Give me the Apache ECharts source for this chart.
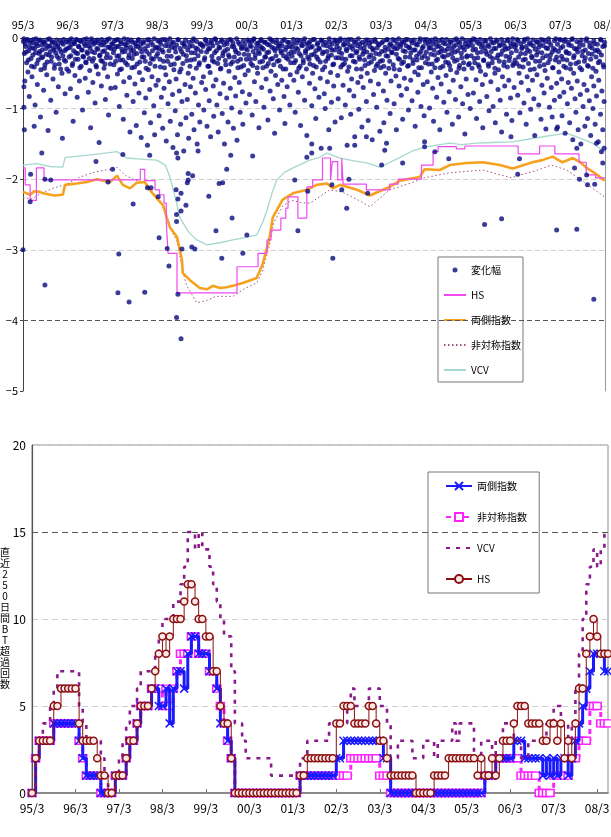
<!DOCTYPE html>
<html><head><meta charset="utf-8">
<script src="https://cdn.jsdelivr.net/npm/echarts@6/dist/echarts.min.js"></script>
<style>html,body{margin:0;padding:0;background:#fff}#c{width:611px;height:837px}</style>
</head><body><div id="c"></div>
<script>
// ---------- top panel: daily changes (x = years since 95/3, frac within year) ----------
const chg95=[[.01,-.05],[.03,-.22],[.04,-.61],[.06,-.12],[.08,-.35],[.09,-.03],[.11,-.48],[.13,-.18],[.14,-.83],[.16,-.07],[.18,-.29],[.2,-.55],[.21,-.14],[.23,-.02],[.25,-.41],[.27,-.95],[.28,-.21],[.3,-.09],[.32,-.66],[.34,-.31],[.35,-.04],[.37,-.19],[.39,-1.12],[.4,-.45],[.42,-.1],[.44,-.27],[.46,-.74],[.47,-.06],[.49,-.38],[.51,-.15],[.53,-.52],[.55,-.02],[.56,-1.31],[.58,-.24],[.6,-.11],[.62,-.88],[.63,-.33],[.65,-.05],[.67,-.58],[.69,-.17],[.7,-.43],[.72,-.08],[.74,-1.05],[.76,-.26],[.78,-.13],[.79,-.69],[.81,-.37],[.83,-.04],[.85,-.2],[.87,-.5],[.88,-1.42],[.9,-.09],[.92,-.31],[.94,-.79],[.96,-.16],[.98,-.44],[.02,-.69],[.02,-.98],[.03,-1.3],[.25,-1.25]];
const chg96=[[.01,-.14],[.02,-.47],[.04,-.03],[.06,-.72],[.07,-.25],[.09,-.09],[.11,-.36],[.12,-1.18],[.14,-.06],[.16,-.53],[.18,-.21],[.19,-.02],[.21,-.84],[.23,-.3],[.25,-.12],[.26,-.61],[.28,-.04],[.3,-.4],[.32,-.17],[.33,-1.02],[.35,-.27],[.37,-.08],[.39,-.57],[.4,-.34],[.42,-.01],[.44,-.22],[.46,-.77],[.47,-.11],[.49,-.46],[.51,-1.27],[.53,-.05],[.54,-.19],[.56,-.63],[.58,-.29],[.6,-.07],[.61,-.92],[.63,-.39],[.65,-.15],[.67,-.03],[.68,-.51],[.7,-1.48],[.72,-.24],[.74,-.1],[.75,-.68],[.77,-.33],[.79,-.06],[.81,-.43],[.82,-.18],[.84,-.87],[.86,-.28],[.88,-.02],[.89,-.55],[.91,-1.09],[.93,-.13],[.95,-.37],[.96,-.71],[.98,-.08]];
const chg97=[[.01,-.09],[.03,-.38],[.04,-.16],[.06,-.7],[.08,-.03],[.1,-.26],[.11,-.51],[.13,-.12],[.15,-.97],[.17,-.31],[.18,-.05],[.2,-.44],[.22,-.2],[.24,-1.15],[.25,-.62],[.27,-.08],[.29,-.35],[.31,-.14],[.32,-.81],[.34,-.02],[.36,-.28],[.38,-.56],[.39,-1.33],[.41,-.18],[.43,-.42],[.45,-.06],[.46,-.9],[.48,-.23],[.5,-.65],[.52,-.11],[.53,-1.24],[.55,-.37],[.57,-.04],[.59,-.78],[.6,-.49],[.62,-.15],[.64,-1.41],[.66,-.27],[.67,-.59],[.69,-.07],[.71,-1.06],[.73,-.33],[.74,-.85],[.76,-.19],[.78,-1.52],[.8,-.45],[.81,-.02],[.83,-.73],[.85,-1.2],[.87,-.29],[.88,-.55],[.9,-.1],[.92,-.96],[.94,-1.37],[.95,-.4],[.97,-.67],[.99,-.13]];
const chg98=[[.01,-.22],[.02,-.6],[.04,-1.1],[.05,-.05],[.07,-.41],[.09,-.84],[.1,-.17],[.12,-1.28],[.14,-.33],[.15,-.71],[.17,-.02],[.19,-.52],[.2,-1.46],[.22,-.26],[.24,-.93],[.25,-.11],[.27,-.62],[.29,-1.18],[.3,-.38],[.32,-.07],[.34,-.8],[.35,-1.55],[.37,-.45],[.39,-.14],[.4,-1.03],[.42,-.58],[.44,-.29],[.45,-1.37],[.47,-.03],[.49,-.75],[.5,-.48],[.52,-1.22],[.54,-.19],[.55,-.9],[.57,-.36],[.59,-1.6],[.6,-.09],[.62,-.66],[.64,-1.13],[.65,-.25],[.67,-.87],[.69,-.5],[.7,-1.42],[.72,-.12],[.74,-.69],[.75,-.31],[.77,-1.08],[.79,-.04],[.8,-.57],[.82,-1.3],[.84,-.21],[.85,-.78],[.87,-.43],[.89,-1.5],[.9,-.16],[.92,-.95],[.94,-.35],[.95,-1.19],[.97,-.08],[.99,-.63]];
const chg99=[[.01,-.1],[.03,-.55],[.04,-1.02],[.06,-.28],[.08,-.73],[.09,-.04],[.11,-1.25],[.13,-.4],[.14,-.16],[.16,-.89],[.18,-.49],[.19,-1.4],[.21,-.07],[.23,-.32],[.25,-.68],[.26,-1.11],[.28,-.21],[.3,-.02],[.31,-.59],[.33,-.95],[.35,-.36],[.36,-1.33],[.38,-.13],[.4,-.79],[.41,-.44],[.43,-.05],[.45,-1.07],[.46,-.25],[.48,-.64],[.5,-1.5],[.51,-.18],[.53,-.38],[.55,-.85],[.56,-.08],[.58,-1.19],[.6,-.47],[.61,-.27],[.63,-.71],[.65,-.03],[.66,-.99],[.68,-.34],[.7,-1.28],[.71,-.12],[.73,-.56],[.75,-.82],[.76,-.2],[.78,-1.45],[.8,-.42],[.81,-.06],[.83,-.63],[.85,-1.05],[.86,-.3],[.88,-.15],[.9,-.76],[.91,-1.22],[.93,-.39],[.95,-.09],[.96,-.52],[.98,-.92]];
const chg00=[[.01,-.17],[.03,-.46],[.05,-.05],[.06,-.8],[.08,-.3],[.1,-.12],[.12,-1.09],[.13,-.39],[.15,-.02],[.17,-.62],[.19,-.24],[.2,-.9],[.22,-.08],[.24,-.5],[.26,-.19],[.27,-1.27],[.29,-.34],[.31,-.04],[.33,-.7],[.34,-.14],[.36,-.42],[.38,-.98],[.4,-.27],[.41,-.06],[.43,-.58],[.45,-.21],[.47,-1.16],[.48,-.36],[.5,-.1],[.52,-.75],[.54,-.47],[.55,-.03],[.57,-.29],[.59,-.86],[.61,-.15],[.62,-1.35],[.64,-.53],[.66,-.07],[.68,-.33],[.69,-.66],[.71,-.11],[.73,-1.02],[.75,-.4],[.76,-.18],[.78,-.6],[.8,-.04],[.82,-.25],[.83,-.83],[.85,-1.21],[.87,-.44],[.89,-.13],[.9,-.69],[.92,-.3],[.94,-.06],[.96,-.95],[.97,-.52],[.99,-.2]];
const chg01=[[.01,-.26],[.03,-.08],[.05,-.6],[.06,-.35],[.08,-1.05],[.1,-.14],[.12,-.48],[.13,-.03],[.15,-.77],[.17,-.22],[.19,-.4],[.2,-1.24],[.22,-.1],[.24,-.55],[.26,-.31],[.27,-.05],[.29,-.88],[.31,-.18],[.33,-.44],[.34,-1.38],[.36,-.27],[.38,-.07],[.4,-.64],[.41,-.37],[.43,-.13],[.45,-.96],[.47,-.5],[.48,-.02],[.5,-.23],[.52,-.72],[.54,-1.14],[.55,-.41],[.57,-.09],[.59,-.3],[.61,-.84],[.62,-.16],[.64,-.57],[.66,-1.56],[.68,-.04],[.69,-.45],[.71,-.2],[.73,-.79],[.75,-1.0],[.76,-.33],[.78,-.11],[.8,-.62],[.82,-.26],[.83,-1.3],[.85,-.06],[.87,-.49],[.89,-.91],[.9,-.17],[.92,-.38],[.94,-.68],[.96,-.03],[.97,-1.19],[.99,-.28]];
const chg02=[[.01,-.12],[.03,-.53],[.04,-.86],[.06,-.2],[.08,-.04],[.1,-.41],[.11,-1.13],[.13,-.29],[.15,-.67],[.17,-.09],[.18,-.36],[.2,-.95],[.22,-.16],[.24,-1.52],[.25,-.47],[.27,-.02],[.29,-.74],[.31,-.25],[.32,-1.08],[.34,-.58],[.36,-.11],[.38,-.33],[.39,-.82],[.41,-1.4],[.43,-.06],[.45,-.44],[.46,-.19],[.48,-.63],[.5,-1.01],[.52,-.3],[.53,-.08],[.55,-.55],[.57,-1.26],[.59,-.23],[.6,-.7],[.62,-.14],[.64,-.39],[.66,-.03],[.67,-.9],[.69,-.5],[.71,-1.17],[.73,-.27],[.74,-.07],[.76,-.61],[.78,-.34],[.8,-1.44],[.81,-.15],[.83,-.8],[.85,-.46],[.87,-.05],[.88,-.22],[.9,-.98],[.92,-.37],[.94,-.65],[.95,-.1],[.97,-1.32],[.99,-.42]];
const chg03=[[.01,-.07],[.03,-.32],[.05,-.75],[.06,-1.2],[.08,-.18],[.1,-.5],[.12,-.03],[.13,-.88],[.15,-.26],[.17,-.43],[.19,-.1],[.2,-1.07],[.22,-.61],[.24,-.21],[.26,-.02],[.27,-.38],[.29,-.93],[.31,-.15],[.33,-.54],[.34,-1.3],[.36,-.08],[.38,-.29],[.4,-.68],[.41,-.45],[.43,-.12],[.45,-.81],[.47,-.05],[.48,-1.15],[.5,-.34],[.52,-.57],[.54,-.19],[.55,-.02],[.57,-.72],[.59,-.4],[.61,-1.02],[.62,-.13],[.64,-.27],[.66,-.6],[.68,-.04],[.69,-.89],[.71,-.36],[.73,-.17],[.75,-.48],[.76,-1.25],[.78,-.09],[.8,-.31],[.82,-.77],[.83,-.52],[.85,-.22],[.87,-.01],[.89,-.97],[.9,-.42],[.92,-.14],[.94,-.66],[.96,-1.1],[.97,-.25],[.99,-.06]];
const chg04=[[.01,-.2],[.03,-.62],[.05,-.09],[.06,-.37],[.08,-.99],[.1,-.14],[.12,-.48],[.13,-.03],[.15,-.71],[.17,-1.18],[.19,-.24],[.2,-.42],[.22,-.06],[.24,-.84],[.26,-.3],[.27,-.56],[.29,-.11],[.31,-1.3],[.33,-.19],[.34,-.65],[.36,-.02],[.38,-.4],[.4,-.91],[.41,-.27],[.43,-.08],[.45,-.53],[.47,-1.05],[.48,-.16],[.5,-.35],[.52,-.76],[.54,-.05],[.55,-.45],[.57,-.22],[.59,-1.22],[.61,-.6],[.62,-.12],[.64,-.33],[.66,-.87],[.68,-.01],[.69,-.49],[.71,-.18],[.73,-1.12],[.75,-.39],[.76,-.07],[.78,-.69],[.8,-.28],[.82,-.93],[.83,-.13],[.85,-.44],[.87,-1.36],[.89,-.04],[.9,-.58],[.92,-.25],[.94,-.8],[.96,-.1],[.97,-.36],[.99,-1.0]];
const chg05=[[.01,-.05],[.03,-.43],[.05,-.17],[.06,-.78],[.08,-.29],[.1,-.02],[.12,-.59],[.13,-1.14],[.15,-.21],[.17,-.38],[.19,-.08],[.2,-.9],[.22,-.47],[.24,-.13],[.26,-.66],[.27,-1.27],[.29,-.32],[.31,-.04],[.33,-.52],[.34,-.19],[.36,-.83],[.38,-.1],[.4,-.4],[.41,-1.03],[.43,-.26],[.45,-.62],[.47,-.06],[.48,-.35],[.5,-.97],[.52,-.15],[.54,-.5],[.55,-1.2],[.57,-.03],[.59,-.28],[.61,-.73],[.62,-.45],[.64,-.11],[.66,-.88],[.68,-.23],[.69,-1.33],[.71,-.55],[.73,-.07],[.75,-.34],[.76,-.68],[.78,-.16],[.8,-1.08],[.82,-.41],[.83,-.02],[.85,-.6],[.87,-.27],[.89,-.85],[.9,-.12],[.92,-1.17],[.94,-.39],[.96,-.08],[.97,-.7],[.99,-.31]];
const chg06=[[.01,-.1],[.03,-.36],[.05,-.81],[.06,-.04],[.08,-.5],[.1,-1.06],[.12,-.22],[.13,-.63],[.15,-.13],[.17,-.41],[.19,-.92],[.2,-.02],[.22,-.3],[.24,-1.22],[.26,-.55],[.27,-.17],[.29,-.74],[.31,-.07],[.33,-.45],[.34,-1.01],[.36,-.26],[.38,-.6],[.4,-.11],[.41,-.86],[.43,-1.38],[.45,-.33],[.47,-.05],[.48,-.52],[.5,-.2],[.52,-.95],[.54,-.4],[.55,-.09],[.57,-1.15],[.59,-.67],[.61,-.28],[.62,-.03],[.64,-.78],[.66,-.46],[.68,-1.29],[.69,-.14],[.71,-.57],[.73,-.35],[.75,-.06],[.76,-.98],[.78,-.24],[.8,-.7],[.82,-1.12],[.83,-.42],[.85,-.15],[.87,-.88],[.89,-.31],[.9,-.01],[.92,-.64],[.94,-1.26],[.96,-.19],[.97,-.48],[.99,-.83]];
const chg07=[[.01,-.14],[.03,-.58],[.04,-1.1],[.06,-.3],[.08,-.77],[.09,-.05],[.11,-1.35],[.13,-.42],[.14,-.21],[.16,-.93],[.18,-.63],[.19,-.1],[.21,-1.2],[.23,-.37],[.25,-.71],[.26,-.02],[.28,-1.44],[.3,-.5],[.31,-.25],[.33,-.86],[.35,-1.05],[.36,-.16],[.38,-.61],[.4,-1.3],[.41,-.34],[.43,-.07],[.45,-.8],[.46,-1.5],[.48,-.45],[.5,-.19],[.51,-.97],[.53,-.66],[.55,-1.25],[.56,-.28],[.58,-.04],[.6,-.74],[.61,-1.14],[.63,-.4],[.65,-.89],[.66,-.12],[.68,-1.38],[.7,-.55],[.71,-.23],[.73,-1.0],[.75,-.68],[.76,-.08],[.78,-1.22],[.8,-.47],[.81,-.82],[.83,-.17],[.85,-1.47],[.86,-.6],[.88,-.33],[.9,-1.08],[.91,-.03],[.93,-.75],[.95,-1.3],[.96,-.38],[.98,-.9],[.99,-.11]];
// small daily changes (same x convention)
const sm95=[[.02,-.01],[.05,-.08],[.07,-.2],[.1,-.02],[.12,-.31],[.15,-.13],[.17,-.04],[.19,-.4],[.22,-.24],[.24,-.07],[.26,-.15],[.29,-.01],[.31,-.36],[.33,-.11],[.36,-.22],[.38,-.03],[.41,-.28],[.43,-.17],[.45,-.05],[.48,-.43],[.5,-.09],[.52,-.23],[.54,-.34],[.57,-.12],[.59,-.01],[.61,-.19],[.64,-.27],[.66,-.06],[.68,-.14],[.71,-.38],[.73,-.21],[.75,-.03],[.77,-.1],[.8,-.29],[.82,-.16],[.84,-.44],[.86,-.07],[.89,-.25],[.91,-.02],[.93,-.18],[.95,-.33],[.97,-.05]];
const sm96=[[.01,-.06],[.03,-.27],[.05,-.13],[.08,-.01],[.1,-.39],[.13,-.18],[.15,-.08],[.17,-.3],[.2,-.03],[.22,-.22],[.24,-.12],[.27,-.42],[.29,-.05],[.31,-.17],[.34,-.26],[.36,-.02],[.39,-.11],[.41,-.35],[.43,-.2],[.45,-.06],[.48,-.29],[.5,-.14],[.53,-.01],[.55,-.33],[.57,-.09],[.6,-.21],[.62,-.04],[.64,-.41],[.67,-.16],[.69,-.07],[.71,-.25],[.74,-.32],[.76,-.02],[.78,-.19],[.81,-.1],[.83,-.37],[.86,-.05],[.88,-.23],[.9,-.13],[.93,-.01],[.95,-.28],[.97,-.15]];
const sm97=[[.02,-.21],[.04,-.04],[.07,-.33],[.09,-.12],[.12,-.02],[.14,-.25],[.16,-.45],[.19,-.08],[.21,-.16],[.23,-.31],[.26,-.01],[.28,-.19],[.3,-.1],[.33,-.38],[.35,-.06],[.37,-.24],[.4,-.13],[.42,-.03],[.44,-.29],[.47,-.17],[.49,-.41],[.51,-.07],[.54,-.22],[.56,-.12],[.58,-.02],[.61,-.34],[.63,-.09],[.65,-.2],[.68,-.05],[.7,-.27],[.72,-.15],[.75,-.43],[.77,-.03],[.79,-.11],[.82,-.23],[.84,-.36],[.86,-.06],[.89,-.18],[.91,-.3],[.93,-.01],[.96,-.14],[.98,-.26]];
const sm98=[[.01,-.04],[.03,-.15],[.06,-.3],[.08,-.09],[.11,-.02],[.13,-.2],[.16,-.42],[.18,-.11],[.21,-.05],[.23,-.33],[.26,-.18],[.28,-.01],[.31,-.26],[.33,-.13],[.36,-.06],[.38,-.37],[.41,-.2],[.43,-.1],[.46,-.02],[.48,-.28],[.51,-.15],[.53,-.44],[.56,-.07],[.58,-.23],[.61,-.12],[.63,-.03],[.66,-.32],[.68,-.17],[.71,-.06],[.73,-.4],[.76,-.21],[.78,-.11],[.81,-.01],[.83,-.3],[.86,-.14],[.88,-.05],[.91,-.25],[.93,-.38],[.96,-.09],[.98,-.19]];
const sm99=[[.02,-.12],[.05,-.31],[.07,-.02],[.1,-.2],[.12,-.09],[.15,-.4],[.17,-.15],[.2,-.04],[.22,-.26],[.24,-.11],[.27,-.34],[.29,-.01],[.32,-.18],[.34,-.07],[.37,-.29],[.39,-.14],[.42,-.43],[.44,-.03],[.47,-.21],[.49,-.1],[.52,-.32],[.54,-.05],[.57,-.16],[.59,-.24],[.62,-.02],[.64,-.37],[.67,-.12],[.69,-.07],[.72,-.27],[.74,-.17],[.77,-.01],[.79,-.33],[.82,-.22],[.84,-.09],[.87,-.41],[.89,-.13],[.92,-.04],[.94,-.23],[.97,-.15],[.99,-.3]];
const sm00=[[.02,-.03],[.04,-.24],[.07,-.11],[.09,-.36],[.11,-.05],[.14,-.19],[.16,-.01],[.18,-.29],[.21,-.14],[.23,-.42],[.25,-.07],[.28,-.22],[.3,-.12],[.32,-.02],[.35,-.33],[.37,-.16],[.39,-.06],[.42,-.27],[.44,-.4],[.46,-.09],[.49,-.2],[.51,-.01],[.53,-.3],[.56,-.13],[.58,-.05],[.6,-.38],[.63,-.18],[.65,-.25],[.67,-.03],[.7,-.14],[.72,-.32],[.74,-.08],[.77,-.21],[.79,-.11],[.81,-.44],[.84,-.02],[.86,-.17],[.88,-.28],[.91,-.06],[.93,-.23],[.95,-.12],[.98,-.35]];
const sm01=[[.01,-.13],[.04,-.02],[.06,-.2],[.09,-.32],[.11,-.07],[.14,-.16],[.16,-.43],[.19,-.04],[.21,-.25],[.24,-.11],[.26,-.35],[.29,-.01],[.31,-.21],[.34,-.09],[.36,-.15],[.39,-.3],[.41,-.05],[.44,-.24],[.46,-.12],[.49,-.39],[.51,-.02],[.54,-.18],[.56,-.27],[.59,-.07],[.61,-.14],[.64,-.34],[.66,-.03],[.69,-.22],[.71,-.1],[.74,-.41],[.76,-.06],[.79,-.19],[.81,-.29],[.84,-.01],[.86,-.13],[.89,-.24],[.91,-.08],[.94,-.37],[.96,-.17],[.99,-.04]];
const sm02=[[.02,-.07],[.05,-.28],[.07,-.15],[.09,-.01],[.12,-.22],[.14,-.38],[.16,-.1],[.19,-.03],[.21,-.3],[.23,-.18],[.26,-.08],[.28,-.41],[.3,-.13],[.33,-.02],[.35,-.25],[.37,-.16],[.4,-.05],[.42,-.34],[.44,-.21],[.47,-.11],[.49,-.01],[.51,-.27],[.54,-.14],[.56,-.44],[.58,-.06],[.61,-.19],[.63,-.31],[.65,-.09],[.68,-.2],[.7,-.03],[.72,-.36],[.75,-.12],[.77,-.24],[.79,-.05],[.82,-.17],[.84,-.29],[.86,-.02],[.89,-.4],[.91,-.14],[.93,-.08],[.96,-.23],[.98,-.33]];
const sm03=[[.01,-.19],[.04,-.05],[.06,-.4],[.09,-.13],[.11,-.25],[.14,-.02],[.16,-.16],[.19,-.33],[.21,-.08],[.24,-.2],[.26,-.12],[.29,-.44],[.31,-.04],[.34,-.23],[.36,-.15],[.39,-.01],[.41,-.3],[.44,-.09],[.46,-.36],[.49,-.18],[.51,-.06],[.54,-.27],[.56,-.11],[.59,-.02],[.61,-.39],[.64,-.14],[.66,-.21],[.69,-.07],[.71,-.31],[.74,-.03],[.76,-.17],[.79,-.26],[.81,-.1],[.84,-.42],[.86,-.05],[.89,-.19],[.91,-.28],[.94,-.12],[.96,-.02],[.99,-.35]];
const sm04=[[.02,-.02],[.04,-.29],[.07,-.14],[.09,-.05],[.11,-.23],[.14,-.37],[.16,-.09],[.18,-.17],[.21,-.01],[.23,-.32],[.25,-.12],[.28,-.21],[.3,-.04],[.32,-.42],[.35,-.15],[.37,-.26],[.39,-.07],[.42,-.18],[.44,-.34],[.46,-.02],[.49,-.24],[.51,-.11],[.53,-.39],[.56,-.06],[.58,-.16],[.6,-.28],[.63,-.03],[.65,-.2],[.67,-.1],[.7,-.31],[.72,-.05],[.74,-.43],[.77,-.13],[.79,-.22],[.81,-.01],[.84,-.35],[.86,-.17],[.88,-.08],[.91,-.27],[.93,-.12],[.95,-.38],[.98,-.04]];
const sm05=[[.01,-.25],[.04,-.11],[.06,-.01],[.09,-.35],[.11,-.16],[.14,-.06],[.16,-.28],[.19,-.41],[.21,-.02],[.24,-.2],[.26,-.09],[.29,-.31],[.31,-.14],[.34,-.04],[.36,-.23],[.39,-.37],[.41,-.12],[.44,-.01],[.46,-.19],[.49,-.29],[.51,-.07],[.54,-.43],[.56,-.15],[.59,-.05],[.61,-.24],[.64,-.33],[.66,-.1],[.69,-.02],[.71,-.18],[.74,-.39],[.76,-.12],[.79,-.26],[.81,-.04],[.84,-.15],[.86,-.32],[.89,-.07],[.91,-.21],[.94,-.01],[.96,-.36],[.99,-.13]];
const sm06=[[.02,-.18],[.04,-.02],[.07,-.27],[.09,-.4],[.12,-.08],[.14,-.15],[.17,-.31],[.19,-.05],[.22,-.22],[.24,-.12],[.27,-.01],[.29,-.36],[.32,-.19],[.34,-.09],[.37,-.28],[.39,-.03],[.42,-.44],[.44,-.16],[.47,-.24],[.49,-.06],[.52,-.13],[.54,-.33],[.57,-.02],[.59,-.21],[.62,-.11],[.64,-.38],[.67,-.05],[.69,-.25],[.72,-.15],[.74,-.01],[.77,-.3],[.79,-.1],[.82,-.2],[.84,-.42],[.87,-.04],[.89,-.17],[.92,-.27],[.94,-.09],[.97,-.34],[.99,-.02]];
const sm07=[[.01,-.03],[.03,-.26],[.06,-.12],[.08,-.4],[.11,-.02],[.13,-.19],[.15,-.31],[.18,-.06],[.2,-.22],[.23,-.44],[.25,-.11],[.27,-.01],[.3,-.28],[.32,-.15],[.35,-.36],[.37,-.05],[.39,-.2],[.42,-.13],[.44,-.42],[.47,-.03],[.49,-.25],[.51,-.1],[.54,-.33],[.56,-.17],[.59,-.01],[.61,-.39],[.63,-.22],[.66,-.07],[.68,-.3],[.71,-.14],[.73,-.43],[.75,-.04],[.78,-.18],[.8,-.27],[.83,-.09],[.85,-.35],[.87,-.2],[.9,-.02],[.92,-.24],[.95,-.12],[.97,-.41],[.99,-.06]];
// large moves (absolute x)
const chgTail=[[0,-3.0],[.17,-1.93],[.16,-2.32],[.42,-1.63],[.49,-2.0],[.62,-2.01],[.49,-3.5],[1.63,-1.75],[2.0,-1.86],[1.9,-2.04],[2.23,-1.65],[2.46,-2.35],[2.14,-3.06],[2.12,-3.61],[2.37,-3.74],[2.72,-3.6],[2.83,-1.66],[2.78,-2.12],[2.86,-2.12],[3.02,-2.25],[3.04,-2.83],[3.22,-2.98],[3.26,-3.23],[3.43,-1.63],[3.46,-1.7],[3.42,-2.15],[3.46,-2.28],[3.53,-2.2],[3.43,-2.5],[3.43,-2.6],[3.53,-2.45],[3.64,-2.37],[3.55,-2.99],[3.46,-3.63],[3.43,-3.96],[3.53,-4.26],[3.69,-1.92],[3.69,-2.01],[3.67,-2.05],[3.79,-1.95],[3.77,-2.96],[3.84,-2.99],[3.91,-1.6],[4.15,-2.24],[4.31,-2.73],[4.38,-2.06],[4.46,-2.05],[4.55,-1.86],[4.64,-1.66],[4.67,-2.55],[4.44,-3.12],[4.91,-3.05],[5.0,-2.79],[5.13,-1.67],[6.07,-2.01],[6.14,-2.73],[6.34,-1.69],[6.45,-1.63],[6.36,-2.17],[6.9,-2.08],[7.12,-2.15],[7.28,-2.0],[7.23,-2.41],[6.92,-3.12],[7.7,-2.2],[8.01,-1.8],[8.48,-1.77],[8.97,-1.54],[9.2,-1.61],[9.51,-1.71],[10.31,-2.64],[10.69,-2.56],[11.05,-1.93],[11.09,-1.71],[11.92,-2.72],[12.37,-2.71],[12.32,-1.84],[12.43,-2.0],[12.59,-1.94],[12.61,-2.08],[12.77,-2.07],[12.75,-3.7],[12.95,-1.77],[12.92,-1.61],[12.81,-1.49],[8.97,-1.47],[8.12,-1.49],[8.08,-1.59],[7.41,-1.52],[7.67,-1.4],[10.9,-1.4],[11.92,-1.29],[12.37,-1.56],[12.98,-1.56],[6.85,-1.56],[6.45,-1.5]];

// ---------- top panel: VaR lines [x, value] ----------
const hsVaR=[[0,-1.84],[0.05,-1.84],[0.05,-2.08],[0.16,-2.08],[0.16,-2.3],[0.3,-2.3],[0.3,-1.84],[0.47,-1.84],[0.47,-2.01],[2.62,-2.01],[2.62,-1.86],[2.72,-1.86],[2.72,-2.02],[2.95,-2.02],[2.95,-2.15],[3.05,-2.15],[3.05,-2.22],[3.15,-2.22],[3.15,-2.34],[3.2,-2.34],[3.2,-2.6],[3.24,-2.6],[3.24,-3.05],[3.44,-3.05],[3.44,-3.61],[4.78,-3.61],[4.78,-3.24],[5.25,-3.24],[5.25,-3.05],[5.45,-3.05],[5.45,-2.86],[5.54,-2.86],[5.54,-2.72],[5.76,-2.72],[5.76,-2.55],[5.87,-2.55],[5.87,-2.41],[5.92,-2.41],[5.92,-2.25],[6.14,-2.25],[6.14,-2.55],[6.34,-2.55],[6.34,-2.11],[6.47,-2.11],[6.47,-2.01],[6.69,-2.01],[6.69,-1.7],[6.87,-1.7],[6.87,-2.01],[6.91,-2.01],[6.91,-1.75],[7.03,-1.75],[7.03,-2.01],[7.12,-2.01],[7.12,-1.7],[7.15,-1.7],[7.15,-2.07],[7.67,-2.07],[7.67,-2.15],[8.19,-2.15],[8.19,-2.07],[8.38,-2.07],[8.38,-2.0],[8.9,-2.0],[8.9,-1.8],[9.16,-1.8],[9.16,-1.61],[9.27,-1.61],[9.27,-1.54],[9.68,-1.54],[9.68,-1.57],[9.87,-1.57],[9.87,-1.53],[11.06,-1.53],[11.06,-1.64],[11.54,-1.64],[11.54,-1.53],[11.88,-1.53],[11.88,-1.64],[12.42,-1.64],[12.42,-1.76],[12.58,-1.76],[12.58,-1.94],[12.79,-1.94],[12.79,-1.98],[13,-1.98]];
const bothVaR=[[0,-2.18],[0.16,-2.22],[0.25,-2.17],[0.38,-2.18],[0.45,-2.2],[0.7,-2.23],[0.89,-2.22],[0.94,-2.08],[1.2,-2.06],[1.43,-2.04],[1.65,-2.0],[1.8,-2.02],[1.94,-2.04],[2.1,-1.95],[2.23,-2.08],[2.39,-2.13],[2.54,-2.05],[2.72,-2.04],[2.83,-2.15],[2.99,-2.27],[3.13,-2.37],[3.21,-2.54],[3.28,-2.68],[3.44,-2.82],[3.55,-3.14],[3.57,-3.33],[3.73,-3.43],[3.95,-3.54],[4.11,-3.56],[4.24,-3.51],[4.4,-3.54],[4.55,-3.53],[4.69,-3.51],[4.91,-3.47],[5.22,-3.4],[5.36,-3.19],[5.51,-2.82],[5.58,-2.54],[5.8,-2.29],[6.03,-2.2],[6.34,-2.15],[6.56,-2.08],[6.79,-2.06],[6.92,-2.13],[7.08,-2.08],[7.46,-2.15],[7.75,-2.23],[8.0,-2.16],[8.19,-2.11],[8.42,-2.02],[8.86,-1.97],[8.97,-1.86],[9.31,-1.87],[9.53,-1.8],[9.91,-1.77],[10.27,-1.76],[10.65,-1.8],[10.94,-1.85],[11.38,-1.76],[11.6,-1.73],[11.83,-1.68],[12.05,-1.76],[12.28,-1.7],[12.45,-1.76],[12.59,-1.84],[12.81,-1.93],[12.99,-2.02]];
const asymVaR=[[0,-2.26],[0.2,-2.28],[0.4,-2.2],[0.7,-2.12],[0.94,-2.08],[1.27,-1.97],[1.6,-1.9],[1.94,-1.86],[2.1,-1.83],[2.3,-1.95],[2.5,-2.01],[2.75,-2.05],[2.9,-2.18],[3.05,-2.3],[3.2,-2.5],[3.3,-2.7],[3.45,-2.9],[3.55,-3.25],[3.65,-3.5],[3.88,-3.75],[4.1,-3.72],[4.3,-3.66],[4.69,-3.66],[4.95,-3.55],[5.22,-3.47],[5.35,-3.3],[5.5,-2.95],[5.6,-2.62],[5.8,-2.38],[6.0,-2.3],[6.2,-2.33],[6.41,-2.34],[6.85,-2.15],[7.12,-2.18],[7.5,-2.3],[7.75,-2.39],[8.19,-2.15],[8.64,-2.06],[8.97,-1.98],[9.53,-1.91],[10.27,-1.87],[10.9,-1.98],[11.5,-1.87],[11.8,-1.8],[12.15,-1.87],[12.37,-1.97],[12.68,-2.11],[12.99,-2.25]];
const vcvVaR=[[0,-1.8],[0.3,-1.78],[0.6,-1.82],[0.89,-1.83],[0.94,-1.69],[1.3,-1.67],[1.7,-1.64],[2.1,-1.61],[2.32,-1.7],[2.7,-1.72],[2.99,-1.73],[3.18,-1.8],[3.28,-1.97],[3.4,-2.25],[3.5,-2.54],[3.7,-2.75],[3.88,-2.86],[4.11,-2.93],[4.4,-2.9],[4.69,-2.86],[5.0,-2.82],[5.22,-2.79],[5.35,-2.62],[5.45,-2.44],[5.56,-2.2],[5.67,-2.01],[5.85,-1.9],[6.03,-1.84],[6.41,-1.73],[6.63,-1.69],[6.79,-1.63],[7.08,-1.7],[7.4,-1.74],[7.68,-1.77],[7.97,-1.83],[8.2,-1.76],[8.42,-1.69],[8.7,-1.6],[9.02,-1.54],[9.53,-1.49],[9.8,-1.51],[10.13,-1.49],[10.5,-1.48],[10.94,-1.47],[11.4,-1.42],[11.92,-1.37],[12.15,-1.35],[12.37,-1.4],[12.72,-1.49],[12.99,-1.61]];

// ---------- bottom panel: monthly BT exceedance counts (from 95/3) ----------
const bothCnt=[0,2,3,3,3,3,4,4,4,4,4,4, 4,3,2,1,1,1,1,0,0,0,0,1, 1,1,2,3,3,4,5,5,5,6,6,5, 5,6,4,6,7,7,6,8,9,9,8,8, 8,7,7,6,4,4,3,2,0,0,0,0, 0,0,0,0,0,0,0,0,0,0,0,0, 0,0,1,1,1,1,1,1,1,1,1,1, 2,2,3,3,3,3,3,3,3,3,3,3, 3,2,2,0,0,0,0,0,0,0,0,0, 0,0,0,0,0,0,0,0,0,0,0,0, 0,0,0,0,0,1,1,1,2,2,2,2, 2,3,3,3,2,2,2,2,2,1,2,1, 2,1,2,2,1,2,3,4,5,6,7,8, 8,8,7,7];
const asymCnt=[0,2,3,3,3,3,4,4,4,4,4,4, 4,3,2,1,1,1,1,0,0,0,0,1, 1,1,2,3,3,4,5,5,5,6,6,6, 5,6,5,6,7,8,8,8,9,9,8,8, 8,7,7,6,5,4,3,2,0,0,0,0, 0,0,0,0,0,0,0,0,0,0,0,0, 0,0,1,1,1,1,1,1,1,1,1,1, 1,1,1,1,2,2,2,2,2,2,2,2, 1,1,1,0,0,0,0,0,0,0,0,0, 0,0,0,0,0,0,0,0,0,0,0,0, 0,0,0,0,0,1,1,1,2,2,2,2, 2,2,2,1,1,1,1,1,0,0,0,0, 1,1,1,1,1,2,2,3,3,3,5,5, 5,4,4,4];
const vcvCnt=[0,2,3,4,4,5,6,7,7,7,7,7, 7,5,4,3,3,3,3,2,1,0,0,1, 2,3,4,5,5,6,7,7,7,7,8,9, 10,10,10,11,11,12,13,15,15,14,15,14, 14,13,12,11,10,9,9,7,4,4,3,2, 2,2,2,2,2,2,1,1,1,1,1,1, 1,1,2,2,3,3,3,3,3,3,4,4, 4,4,4,5,6,5,5,5,5,6,6,6, 5,5,4,2,2,3,3,3,3,2,2,2, 3,3,3,2,3,3,3,3,4,3,4,4, 4,4,2,2,3,3,3,2,3,3,4,4, 4,3,3,2,2,3,3,3,3,3,4,4, 5,5,4,4,3,4,6,8,10,12,13,14, 13,14,15,15];
const hsCnt=[0,2,3,3,3,3,5,5,6,6,6,6, 6,4,3,3,3,3,2,1,1,0,0,1, 1,1,2,3,3,4,5,5,5,6,7,8, 9,8,9,10,10,10,11,12,12,11,10,10, 9,9,7,7,5,4,4,2,0,0,0,0, 0,0,0,0,0,0,0,0,0,0,0,0, 0,0,1,1,2,2,2,2,2,2,2,2, 4,4,5,5,5,4,4,4,4,5,5,4, 3,3,2,1,1,1,1,1,1,1,0,0, 0,0,0,1,1,1,1,2,2,2,2,2, 2,2,2,1,2,1,1,2,1,2,3,3, 3,4,5,5,5,4,4,4,4,3,3,4, 4,3,4,2,3,2,4,6,6,8,9,10, 9,8,8,8];

const xTicks=['95/3','96/3','97/3','98/3','99/3','00/3','01/3','02/3','03/3','04/3','05/3','06/3','07/3','08/3'];

// ---------- build ----------
const yearly=[chg95,chg96,chg97,chg98,chg99,chg00,chg01,chg02,chg03,chg04,chg05,chg06,chg07];
const yearlySmall=[sm95,sm96,sm97,sm98,sm99,sm00,sm01,sm02,sm03,sm04,sm05,sm06,sm07];
const toAbs=(a,y)=>a.map(p=>[y+p[0],p[1]]);
const scatterData=yearly.flatMap(toAbs).concat(yearlySmall.flatMap(toAbs)).concat(chgTail);
const monthly=a=>a.map((v,i)=>[i/12,v]);
const FONT='"Noto Sans CJK JP", "Noto Sans", sans-serif';
const xLab=v=>xTicks[Math.round(v)]||'';
const chart=echarts.init(document.getElementById('c'),null,{renderer:'canvas'});
const X_PATH='path://M0,0L10,10M10,0L0,10';
const noSym={opacity:0};
chart.setOption({
  backgroundColor:'#fff',
  animation:false,
  textStyle:{fontFamily:FONT},
  grid:[
    {left:23,top:38,width:582,height:353,outerBoundsMode:'none',containLabel:false},
    {left:32,top:445,width:576,height:348,show:true,borderColor:'#8c8c8c',borderWidth:1,outerBoundsMode:'none',containLabel:false}
  ],
  xAxis:[
    {type:'value',gridIndex:0,position:'top',min:0,max:13,interval:1,
     axisLine:{show:true,lineStyle:{color:'#333',width:1.2}},axisTick:{show:false},splitLine:{show:false},
     axisLabel:{formatter:xLab,color:'#000',fontSize:11,margin:8,fontFamily:FONT,showMinLabel:true,showMaxLabel:true,hideOverlap:false}},
    {type:'value',gridIndex:1,position:'bottom',min:0,max:13.25,interval:1,
     axisLine:{show:true,onZero:false,lineStyle:{color:'#777',width:1.5}},axisTick:{show:true,inside:true,length:4,lineStyle:{color:'#777'}},splitLine:{show:false},
     axisLabel:{formatter:xLab,color:'#000',fontSize:12,margin:9,fontFamily:FONT,showMinLabel:true,showMaxLabel:false,hideOverlap:false}}
  ],
  yAxis:[
    {type:'value',gridIndex:0,min:-5,max:0,interval:1,
     axisLine:{show:true,lineStyle:{color:'#444'}},axisTick:{show:true,length:3,lineStyle:{color:'#444'}},
     splitLine:{show:true,lineStyle:{color:['rgba(0,0,0,0)','#cfcfcf','#cfcfcf','#cfcfcf','#cfcfcf','#cfcfcf'],type:[5,3]}},
     axisLabel:{formatter:v=>v===0?'0':'\u2212'+Math.abs(v),color:'#000',fontSize:11,margin:5,fontFamily:FONT}},
    {type:'value',gridIndex:0,min:-5,max:0,interval:1,position:'right',
     axisLine:{show:true,lineStyle:{color:'#999'}},axisTick:{show:false},axisLabel:{show:false},splitLine:{show:false}},
    {type:'value',gridIndex:1,min:0,max:20,interval:5,
     axisLine:{show:true,lineStyle:{color:'#555',width:1.2}},axisTick:{show:false},
     splitLine:{show:true,lineStyle:{color:'#cfcfcf',type:[6,4]}},
     axisLabel:{color:'#000',fontSize:12,margin:6,fontFamily:FONT}}
  ],
  legend:[
    {orient:'vertical',left:438,top:257,itemWidth:22,itemHeight:5,itemGap:15,padding:[8,2,7,5],
     backgroundColor:'#fff',borderColor:'#777',borderWidth:1,
     textStyle:{fontSize:10,color:'#000',fontFamily:FONT},
     data:['変化幅',{name:'HS',itemStyle:noSym},{name:'両側指数',itemStyle:noSym},{name:'非対称指数',itemStyle:noSym},{name:'VCV',itemStyle:noSym}]},
    {orient:'vertical',left:428,top:472,itemWidth:26,itemHeight:10,itemGap:21,padding:[9,10,9,17],
     backgroundColor:'#fff',borderColor:'#777',borderWidth:1,
     textStyle:{fontSize:10,color:'#000',fontFamily:FONT},
     data:['両側指数 ','非対称指数 ',{name:'VCV ',itemStyle:noSym},'HS ']}
  ],
  graphic:[
    {type:'text',x:5,y:547,silent:true,
     style:{text:'直\n近\n2\n5\n0\n日\n間\nB\nT\n超\n過\n回\n数',font:'10px '+FONT,lineHeight:11,align:'center',verticalAlign:'top',fill:'#000'}}
  ],
  series:[
    {name:'VCV',type:'line',xAxisIndex:0,yAxisIndex:0,data:vcvVaR,symbol:'none',
     lineStyle:{color:'#a6d8cf',width:1.3},itemStyle:{color:'#a6d8cf'},z:2,
     markLine:{silent:true,symbol:'none',label:{show:false},lineStyle:{color:'#555',type:[5,3],width:1.2},data:[{yAxis:-4}]}},
    {name:'非対称指数',type:'line',xAxisIndex:0,yAxisIndex:0,data:asymVaR,symbol:'none',
     lineStyle:{color:'#a0527e',width:1,type:[1.5,2.5]},itemStyle:{color:'#a0527e'},z:3},
    {name:'両側指数',type:'line',xAxisIndex:0,yAxisIndex:0,data:bothVaR,symbol:'none',
     lineStyle:{color:'#f7a21f',width:2.6},itemStyle:{color:'#f7a21f'},z:4},
    {name:'HS',type:'line',xAxisIndex:0,yAxisIndex:0,data:hsVaR,symbol:'none',
     lineStyle:{color:'#f048f0',width:1.2},itemStyle:{color:'#f048f0'},z:5},
    {name:'変化幅',type:'scatter',xAxisIndex:0,yAxisIndex:0,data:scatterData,symbol:'circle',symbolSize:5,
     itemStyle:{color:'#0a0a80'},z:6},

    {name:'両側指数 ',type:'line',xAxisIndex:1,yAxisIndex:2,data:monthly(bothCnt),step:'end',
     symbol:X_PATH,symbolSize:8,showAllSymbol:true,
     lineStyle:{color:'#1a1aff',width:3},itemStyle:{color:'#1a1aff',borderColor:'#1a1aff',borderWidth:1.5},z:3,
     markLine:{silent:true,symbol:'none',label:{show:false},lineStyle:{color:'#555',type:[6,4],width:1.2},data:[{yAxis:15}]}},
    {name:'非対称指数 ',type:'line',xAxisIndex:1,yAxisIndex:2,data:monthly(asymCnt),step:'end',
     symbol:'rect',symbolSize:[8,7],showAllSymbol:true,
     lineStyle:{color:'#ff22ff',width:3,type:[5,4]},itemStyle:{color:'#fff',borderColor:'#ff22ff',borderWidth:1.5},z:2},
    {name:'VCV ',type:'line',xAxisIndex:1,yAxisIndex:2,data:monthly(vcvCnt),step:'end',symbol:'none',
     lineStyle:{color:'#8a1a8a',width:2.6,type:[4,6]},itemStyle:{color:'#8a1a8a'},z:4},
    {name:'HS ',type:'line',xAxisIndex:1,yAxisIndex:2,data:monthly(hsCnt),step:'end',
     symbol:'circle',symbolSize:7,showAllSymbol:true,
     lineStyle:{color:'#8b1010',width:1},itemStyle:{color:'#fbe8e8',borderColor:'#8b1010',borderWidth:1.5},z:5}
  ]
});
</script></body></html>
